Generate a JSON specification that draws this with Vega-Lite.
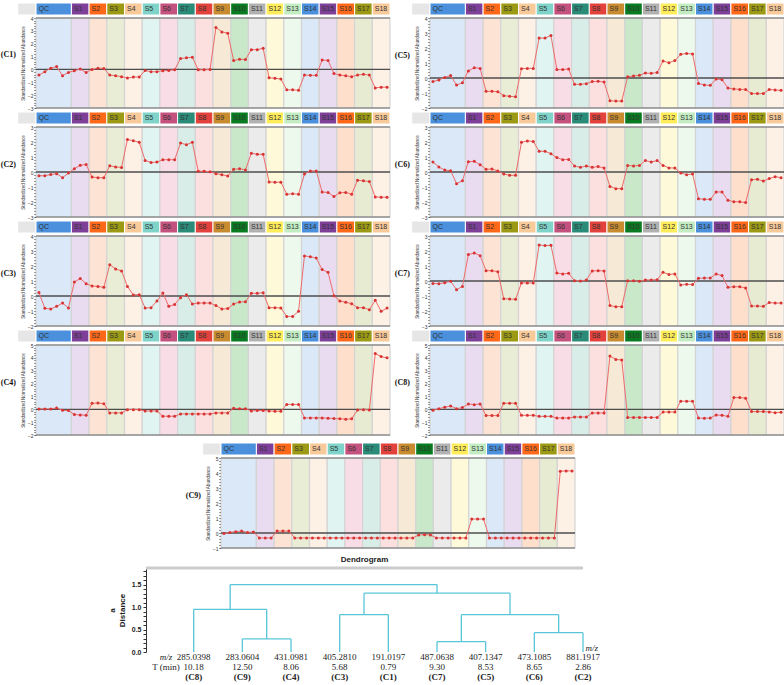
{
"$schema": "https://vega.github.io/schema/vega-lite/v6.json",
"background": "white",
"padding": {"left": 0, "top": 2, "right": 0, "bottom": 0},
"config": {"view": {"stroke": null}, "font": "Liberation Sans",
  "axis": {"labelFontSize": 5, "titleFontSize": 4.5, "titleFontWeight": "normal", "tickSize": 2, "labelPadding": 1, "titlePadding": 2, "domainColor": "#333333", "tickColor": "#333333", "labelColor": "#333333", "titleColor": "#333333", "grid": false, "labelOverlap": false, "labelFont": "Liberation Sans", "titleFont": "Liberation Sans"}},
"datasets": {
"bands": [{"g":"X","x":-3.6,"x2":-0.5},{"g":"QC","x":-0.5,"x2":5.5},{"g":"S1","x":5.5,"x2":8.5},{"g":"S2","x":8.5,"x2":11.5},{"g":"S3","x":11.5,"x2":14.5},{"g":"S4","x":14.5,"x2":17.5},{"g":"S5","x":17.5,"x2":20.5},{"g":"S6","x":20.5,"x2":23.5},{"g":"S7","x":23.5,"x2":26.5},{"g":"S8","x":26.5,"x2":29.5},{"g":"S9","x":29.5,"x2":32.5},{"g":"S10","x":32.5,"x2":35.5},{"g":"S11","x":35.5,"x2":38.5},{"g":"S12","x":38.5,"x2":41.5},{"g":"S13","x":41.5,"x2":44.5},{"g":"S14","x":44.5,"x2":47.5},{"g":"S15","x":47.5,"x2":50.5},{"g":"S16","x":50.5,"x2":53.5},{"g":"S17","x":53.5,"x2":56.5},{"g":"S18","x":56.5,"x2":59.5}],
"C1": [{"x":0,"v":-0.44},{"x":1,"v":-0.18},{"x":2,"v":0.1},{"x":3,"v":0.23},{"x":4,"v":-0.49},{"x":5,"v":-0.23},{"x":6,"v":-0.1},{"x":7,"v":0.03},{"x":8,"v":-0.23},{"x":9,"v":0},{"x":10,"v":0.1},{"x":11,"v":0.08},{"x":12,"v":-0.44},{"x":13,"v":-0.49},{"x":14,"v":-0.56},{"x":15,"v":-0.67},{"x":16,"v":-0.59},{"x":17,"v":-0.59},{"x":18,"v":-0.08},{"x":19,"v":-0.18},{"x":20,"v":-0.18},{"x":21,"v":-0.1},{"x":22,"v":-0.08},{"x":23,"v":-0.03},{"x":24,"v":0.85},{"x":25,"v":0.9},{"x":26,"v":0.95},{"x":27,"v":-0.03},{"x":28,"v":-0.03},{"x":29,"v":0},{"x":30,"v":3.26},{"x":31,"v":2.92},{"x":32,"v":2.82},{"x":33,"v":0.69},{"x":34,"v":0.79},{"x":35,"v":0.77},{"x":36,"v":1.54},{"x":37,"v":1.54},{"x":38,"v":1.64},{"x":39,"v":-0.64},{"x":40,"v":-0.69},{"x":41,"v":-0.74},{"x":42,"v":-1.59},{"x":43,"v":-1.59},{"x":44,"v":-1.62},{"x":45,"v":-0.44},{"x":46,"v":-0.46},{"x":47,"v":-0.46},{"x":48,"v":0.74},{"x":49,"v":0.69},{"x":50,"v":-0.31},{"x":51,"v":-0.44},{"x":52,"v":-0.49},{"x":53,"v":-0.56},{"x":54,"v":-0.44},{"x":55,"v":-0.38},{"x":56,"v":-0.44},{"x":57,"v":-1.44},{"x":58,"v":-1.38},{"x":59,"v":-1.38}],
"C2": [{"x":0,"v":-0.25},{"x":1,"v":-0.25},{"x":2,"v":-0.16},{"x":3,"v":-0.11},{"x":4,"v":-0.38},{"x":5,"v":-0.07},{"x":6,"v":0.22},{"x":7,"v":0.45},{"x":8,"v":0.5},{"x":9,"v":-0.34},{"x":10,"v":-0.38},{"x":11,"v":-0.38},{"x":12,"v":0.41},{"x":13,"v":0.34},{"x":14,"v":0.3},{"x":15,"v":2.16},{"x":16,"v":2.09},{"x":17,"v":1.98},{"x":18,"v":0.77},{"x":19,"v":0.64},{"x":20,"v":0.66},{"x":21,"v":0.82},{"x":22,"v":0.82},{"x":23,"v":0.82},{"x":24,"v":1.93},{"x":25,"v":1.82},{"x":26,"v":1.98},{"x":27,"v":0.05},{"x":28,"v":0.05},{"x":29,"v":0.02},{"x":30,"v":-0.11},{"x":31,"v":-0.18},{"x":32,"v":-0.27},{"x":33,"v":0.18},{"x":34,"v":0.22},{"x":35,"v":0.14},{"x":36,"v":1.25},{"x":37,"v":1.18},{"x":38,"v":1.18},{"x":39,"v":-0.66},{"x":40,"v":-0.68},{"x":41,"v":-0.68},{"x":42,"v":-1.48},{"x":43,"v":-1.45},{"x":44,"v":-1.48},{"x":45,"v":-0.14},{"x":46,"v":0.07},{"x":47,"v":0.07},{"x":48,"v":-1.34},{"x":49,"v":-1.36},{"x":50,"v":-1.64},{"x":51,"v":-1.39},{"x":52,"v":-1.36},{"x":53,"v":-1.48},{"x":54,"v":-0.55},{"x":55,"v":-0.59},{"x":56,"v":-0.64},{"x":57,"v":-1.66},{"x":58,"v":-1.68},{"x":59,"v":-1.68}],
"C3": [{"x":0,"v":0.24},{"x":1,"v":-0.82},{"x":2,"v":-0.87},{"x":3,"v":-0.69},{"x":4,"v":-0.47},{"x":5,"v":-0.8},{"x":6,"v":0.93},{"x":7,"v":1.16},{"x":8,"v":0.82},{"x":9,"v":0.67},{"x":10,"v":0.64},{"x":11,"v":0.58},{"x":12,"v":2.09},{"x":13,"v":1.8},{"x":14,"v":1.67},{"x":15,"v":0.64},{"x":16,"v":0.07},{"x":17,"v":0.09},{"x":18,"v":-0.8},{"x":19,"v":-0.78},{"x":20,"v":-0.33},{"x":21,"v":0.2},{"x":22,"v":-0.69},{"x":23,"v":-0.56},{"x":24,"v":-0.11},{"x":25,"v":0.09},{"x":26,"v":-0.53},{"x":27,"v":-0.47},{"x":28,"v":-0.47},{"x":29,"v":-0.47},{"x":30,"v":-0.64},{"x":31,"v":-0.87},{"x":32,"v":-0.84},{"x":33,"v":-0.53},{"x":34,"v":-0.4},{"x":35,"v":-0.38},{"x":36,"v":0.18},{"x":37,"v":0.18},{"x":38,"v":0.22},{"x":39,"v":-0.78},{"x":40,"v":-0.78},{"x":41,"v":-0.8},{"x":42,"v":-1.36},{"x":43,"v":-1.36},{"x":44,"v":-1.02},{"x":45,"v":2.67},{"x":46,"v":2.62},{"x":47,"v":2.53},{"x":48,"v":1.76},{"x":49,"v":1.58},{"x":50,"v":0.02},{"x":51,"v":-0.33},{"x":52,"v":-0.42},{"x":53,"v":-0.51},{"x":54,"v":-0.78},{"x":55,"v":-0.78},{"x":56,"v":-0.91},{"x":57,"v":-0.29},{"x":58,"v":-1.02},{"x":59,"v":-0.8}],
"C4": [{"x":0,"v":0.03},{"x":1,"v":0.03},{"x":2,"v":0.03},{"x":3,"v":0.1},{"x":4,"v":-0.08},{"x":5,"v":-0.1},{"x":6,"v":-0.41},{"x":7,"v":-0.44},{"x":8,"v":-0.46},{"x":9,"v":0.46},{"x":10,"v":0.49},{"x":11,"v":0.44},{"x":12,"v":-0.28},{"x":13,"v":-0.28},{"x":14,"v":-0.28},{"x":15,"v":-0.03},{"x":16,"v":-0.03},{"x":17,"v":-0.03},{"x":18,"v":-0.13},{"x":19,"v":-0.13},{"x":20,"v":-0.13},{"x":21,"v":-0.54},{"x":22,"v":-0.54},{"x":23,"v":-0.54},{"x":24,"v":-0.36},{"x":25,"v":-0.36},{"x":26,"v":-0.36},{"x":27,"v":-0.36},{"x":28,"v":-0.36},{"x":29,"v":-0.36},{"x":30,"v":-0.28},{"x":31,"v":-0.28},{"x":32,"v":-0.28},{"x":33,"v":0.08},{"x":34,"v":0.05},{"x":35,"v":0.05},{"x":36,"v":-0.13},{"x":37,"v":-0.1},{"x":38,"v":-0.1},{"x":39,"v":-0.13},{"x":40,"v":-0.15},{"x":41,"v":-0.15},{"x":42,"v":0.38},{"x":43,"v":0.38},{"x":44,"v":0.38},{"x":45,"v":-0.67},{"x":46,"v":-0.67},{"x":47,"v":-0.67},{"x":48,"v":-0.67},{"x":49,"v":-0.69},{"x":50,"v":-0.72},{"x":51,"v":-0.74},{"x":52,"v":-0.77},{"x":53,"v":-0.74},{"x":54,"v":-0.05},{"x":55,"v":-0.03},{"x":56,"v":-0.05},{"x":57,"v":4.33},{"x":58,"v":4.1},{"x":59,"v":4.0}],
"C5": [{"x":0,"v":-0.24},{"x":1,"v":-0.13},{"x":2,"v":0.04},{"x":3,"v":0.16},{"x":4,"v":-0.47},{"x":5,"v":-0.31},{"x":6,"v":0.47},{"x":7,"v":0.69},{"x":8,"v":0.64},{"x":9,"v":-0.89},{"x":10,"v":-0.89},{"x":11,"v":-0.91},{"x":12,"v":-1.18},{"x":13,"v":-1.22},{"x":14,"v":-1.25},{"x":15,"v":0.62},{"x":16,"v":0.64},{"x":17,"v":0.64},{"x":18,"v":2.66},{"x":19,"v":2.66},{"x":20,"v":2.84},{"x":21,"v":0.56},{"x":22,"v":0.56},{"x":23,"v":0.6},{"x":24,"v":-0.42},{"x":25,"v":-0.42},{"x":26,"v":-0.38},{"x":27,"v":-0.24},{"x":28,"v":-0.22},{"x":29,"v":-0.27},{"x":30,"v":-1.52},{"x":31,"v":-1.54},{"x":32,"v":-1.54},{"x":33,"v":0.09},{"x":34,"v":0.13},{"x":35,"v":0.18},{"x":36,"v":0.33},{"x":37,"v":0.31},{"x":38,"v":0.36},{"x":39,"v":1.13},{"x":40,"v":1.02},{"x":41,"v":1.16},{"x":42,"v":1.58},{"x":43,"v":1.64},{"x":44,"v":1.6},{"x":45,"v":-0.36},{"x":46,"v":-0.47},{"x":47,"v":-0.49},{"x":48,"v":-0.07},{"x":49,"v":-0.11},{"x":50,"v":-0.67},{"x":51,"v":-0.73},{"x":52,"v":-0.76},{"x":53,"v":-0.76},{"x":54,"v":-1.04},{"x":55,"v":-1.04},{"x":56,"v":-1.04},{"x":57,"v":-0.76},{"x":58,"v":-0.8},{"x":59,"v":-0.82}],
"C6": [{"x":0,"v":0.67},{"x":1,"v":0.33},{"x":2,"v":0.13},{"x":3,"v":0.09},{"x":4,"v":-0.78},{"x":5,"v":-0.58},{"x":6,"v":0.69},{"x":7,"v":0.71},{"x":8,"v":0.49},{"x":9,"v":0.18},{"x":10,"v":0.2},{"x":11,"v":0.07},{"x":12,"v":-0.13},{"x":13,"v":-0.22},{"x":14,"v":-0.22},{"x":15,"v":1.98},{"x":16,"v":2.07},{"x":17,"v":2.04},{"x":18,"v":1.38},{"x":19,"v":1.38},{"x":20,"v":1.22},{"x":21,"v":0.96},{"x":22,"v":0.82},{"x":23,"v":0.84},{"x":24,"v":0.4},{"x":25,"v":0.31},{"x":26,"v":0.4},{"x":27,"v":0.31},{"x":28,"v":0.36},{"x":29,"v":0.27},{"x":30,"v":-0.96},{"x":31,"v":-1.11},{"x":32,"v":-1.11},{"x":33,"v":0.44},{"x":34,"v":0.4},{"x":35,"v":0.44},{"x":36,"v":0.76},{"x":37,"v":0.67},{"x":38,"v":0.76},{"x":39,"v":0.44},{"x":40,"v":0.27},{"x":41,"v":0.27},{"x":42,"v":-0.07},{"x":43,"v":-0.18},{"x":44,"v":-0.13},{"x":45,"v":-1.78},{"x":46,"v":-1.82},{"x":47,"v":-1.82},{"x":48,"v":-1.33},{"x":49,"v":-1.33},{"x":50,"v":-1.89},{"x":51,"v":-1.98},{"x":52,"v":-1.98},{"x":53,"v":-2.04},{"x":54,"v":-0.51},{"x":55,"v":-0.49},{"x":56,"v":-0.6},{"x":57,"v":-0.44},{"x":58,"v":-0.31},{"x":59,"v":-0.38}],
"C7": [{"x":0,"v":-0.16},{"x":1,"v":-0.18},{"x":2,"v":-0.11},{"x":3,"v":-0.02},{"x":4,"v":-0.58},{"x":5,"v":-0.36},{"x":6,"v":1.76},{"x":7,"v":1.87},{"x":8,"v":1.69},{"x":9,"v":0.69},{"x":10,"v":0.69},{"x":11,"v":0.62},{"x":12,"v":-1.18},{"x":13,"v":-1.2},{"x":14,"v":-1.22},{"x":15,"v":-0.13},{"x":16,"v":-0.13},{"x":17,"v":-0.13},{"x":18,"v":2.4},{"x":19,"v":2.36},{"x":20,"v":2.38},{"x":21,"v":0.53},{"x":22,"v":0.47},{"x":23,"v":0.51},{"x":24,"v":0.02},{"x":25,"v":0},{"x":26,"v":0.07},{"x":27,"v":0.67},{"x":28,"v":0.69},{"x":29,"v":0.67},{"x":30,"v":-1.64},{"x":31,"v":-1.71},{"x":32,"v":-1.71},{"x":33,"v":0.02},{"x":34,"v":0.02},{"x":35,"v":-0.02},{"x":36,"v":0.07},{"x":37,"v":0.07},{"x":38,"v":0.09},{"x":39,"v":0.58},{"x":40,"v":0.44},{"x":41,"v":0.47},{"x":42,"v":-0.27},{"x":43,"v":-0.22},{"x":44,"v":-0.24},{"x":45,"v":0.18},{"x":46,"v":0.2},{"x":47,"v":0.2},{"x":48,"v":0.47},{"x":49,"v":0.36},{"x":50,"v":-0.42},{"x":51,"v":-0.38},{"x":52,"v":-0.38},{"x":53,"v":-0.47},{"x":54,"v":-1.67},{"x":55,"v":-1.67},{"x":56,"v":-1.69},{"x":57,"v":-1.44},{"x":58,"v":-1.47},{"x":59,"v":-1.47}],
"C8": [{"x":0,"v":-0.08},{"x":1,"v":0.05},{"x":2,"v":0.16},{"x":3,"v":0.26},{"x":4,"v":0.05},{"x":5,"v":0.13},{"x":6,"v":0.42},{"x":7,"v":0.36},{"x":8,"v":0.42},{"x":9,"v":-0.49},{"x":10,"v":-0.49},{"x":11,"v":-0.49},{"x":12,"v":0.47},{"x":13,"v":0.47},{"x":14,"v":0.47},{"x":15,"v":-0.47},{"x":16,"v":-0.47},{"x":17,"v":-0.47},{"x":18,"v":-0.55},{"x":19,"v":-0.55},{"x":20,"v":-0.55},{"x":21,"v":-0.68},{"x":22,"v":-0.68},{"x":23,"v":-0.68},{"x":24,"v":-0.6},{"x":25,"v":-0.6},{"x":26,"v":-0.6},{"x":27,"v":-0.29},{"x":28,"v":-0.29},{"x":29,"v":-0.29},{"x":30,"v":4.14},{"x":31,"v":3.88},{"x":32,"v":3.83},{"x":33,"v":-0.63},{"x":34,"v":-0.63},{"x":35,"v":-0.63},{"x":36,"v":-0.63},{"x":37,"v":-0.63},{"x":38,"v":-0.63},{"x":39,"v":-0.21},{"x":40,"v":-0.21},{"x":41,"v":-0.21},{"x":42,"v":0.63},{"x":43,"v":0.63},{"x":44,"v":0.63},{"x":45,"v":-0.68},{"x":46,"v":-0.7},{"x":47,"v":-0.68},{"x":48,"v":-0.44},{"x":49,"v":-0.47},{"x":50,"v":-0.55},{"x":51,"v":0.91},{"x":52,"v":0.91},{"x":53,"v":0.86},{"x":54,"v":-0.18},{"x":55,"v":-0.18},{"x":56,"v":-0.18},{"x":57,"v":-0.21},{"x":58,"v":-0.26},{"x":59,"v":-0.23}],
"C9": [{"x":0,"v":-0.04},{"x":1,"v":0.04},{"x":2,"v":0.09},{"x":3,"v":0.13},{"x":4,"v":0.04},{"x":5,"v":0.07},{"x":6,"v":-0.33},{"x":7,"v":-0.33},{"x":8,"v":-0.33},{"x":9,"v":0.13},{"x":10,"v":0.13},{"x":11,"v":0.13},{"x":12,"v":-0.33},{"x":13,"v":-0.33},{"x":14,"v":-0.33},{"x":15,"v":-0.33},{"x":16,"v":-0.33},{"x":17,"v":-0.33},{"x":18,"v":-0.33},{"x":19,"v":-0.33},{"x":20,"v":-0.33},{"x":21,"v":-0.33},{"x":22,"v":-0.33},{"x":23,"v":-0.33},{"x":24,"v":-0.33},{"x":25,"v":-0.33},{"x":26,"v":-0.33},{"x":27,"v":-0.33},{"x":28,"v":-0.33},{"x":29,"v":-0.33},{"x":30,"v":-0.33},{"x":31,"v":-0.33},{"x":32,"v":-0.33},{"x":33,"v":-0.13},{"x":34,"v":-0.11},{"x":35,"v":-0.13},{"x":36,"v":-0.33},{"x":37,"v":-0.33},{"x":38,"v":-0.33},{"x":39,"v":-0.33},{"x":40,"v":-0.33},{"x":41,"v":-0.33},{"x":42,"v":0.93},{"x":43,"v":0.93},{"x":44,"v":0.93},{"x":45,"v":-0.33},{"x":46,"v":-0.33},{"x":47,"v":-0.33},{"x":48,"v":-0.33},{"x":49,"v":-0.33},{"x":50,"v":-0.33},{"x":51,"v":-0.33},{"x":52,"v":-0.33},{"x":53,"v":-0.33},{"x":54,"v":-0.33},{"x":55,"v":-0.33},{"x":56,"v":-0.33},{"x":57,"v":4.12},{"x":58,"v":4.14},{"x":59,"v":4.14}],
"links": [{"x":1,"x2":1,"y":0,"y2":0.29},{"x":2,"x2":2,"y":0,"y2":0.29},{"x":1,"x2":2,"y":0.29,"y2":0.29},{"x":0,"x2":0,"y":0,"y2":0.95},{"x":1.5,"x2":1.5,"y":0.29,"y2":0.95},{"x":0,"x2":1.5,"y":0.95,"y2":0.95},{"x":3,"x2":3,"y":0,"y2":0.83},{"x":4,"x2":4,"y":0,"y2":0.83},{"x":3,"x2":4,"y":0.83,"y2":0.83},{"x":5,"x2":5,"y":0,"y2":0.23},{"x":6,"x2":6,"y":0,"y2":0.23},{"x":5,"x2":6,"y":0.23,"y2":0.23},{"x":7,"x2":7,"y":0,"y2":0.43},{"x":8,"x2":8,"y":0,"y2":0.43},{"x":7,"x2":8,"y":0.43,"y2":0.43},{"x":5.5,"x2":5.5,"y":0.23,"y2":0.83},{"x":7.5,"x2":7.5,"y":0.43,"y2":0.83},{"x":5.5,"x2":7.5,"y":0.83,"y2":0.83},{"x":3.5,"x2":3.5,"y":0.83,"y2":1.31},{"x":6.5,"x2":6.5,"y":0.83,"y2":1.31},{"x":3.5,"x2":6.5,"y":1.31,"y2":1.31},{"x":0.75,"x2":0.75,"y":0.95,"y2":1.5},{"x":5,"x2":5,"y":1.31,"y2":1.5},{"x":0.75,"x2":5,"y":1.5,"y2":1.5}],
"leaves": [{"k":0,"mz":"285.0398","t":"10.18","c":"(C8)"},{"k":1,"mz":"283.0604","t":"12.50","c":"(C9)"},{"k":2,"mz":"431.0981","t":"8.06","c":"(C4)"},{"k":3,"mz":"405.2810","t":"5.68","c":"(C3)"},{"k":4,"mz":"191.0197","t":"0.79","c":"(C1)"},{"k":5,"mz":"487.0638","t":"9.30","c":"(C7)"},{"k":6,"mz":"407.1347","t":"8.53","c":"(C5)"},{"k":7,"mz":"473.1085","t":"8.65","c":"(C6)"},{"k":8,"mz":"881.1917","t":"2.86","c":"(C2)"}]
},
"spacing": 4,
"vconcat": [
{"concat": [
{"width":354,"height":105,"resolve":{"scale":{"y":"independent"}},"layer":[
{"data":{"name":"bands"},"layer":[
{"mark":{"type":"rect","stroke":"#ffffff","strokeWidth":1},"encoding":{"x":{"field":"x","type":"quantitative","scale":{"domain":[-0.5,59.5],"nice":false,"zero":false},"axis":null},"x2":{"field":"x2"},"y":{"datum":1,"scale":{"domain":[0,1],"range":[12,0],"nice":false,"zero":false},"axis":null},"y2":{"datum":0},"color":{"field":"g","type":"nominal","scale":{"domain":["X","QC","S1","S2","S3","S4","S5","S6","S7","S8","S9","S10","S11","S12","S13","S14","S15","S16","S17","S18"],"range":["#e6e6e6","#4a90dc","#7d3f98","#ff6818","#9c9a14","#f8c999","#7fd3c9","#c4527f","#2b8b79","#e2423b","#c98b30","#087a1f","#b1b1b1","#ffec5a","#c3ecc3","#4a90dc","#7d3f98","#ff6818","#9c9a14","#f8c999"]},"legend":null}}},
{"transform":[{"filter":"datum.g != 'X'"}],"mark":{"type":"text","align":"left","baseline":"middle","dx":2.5,"fontSize":7,"font":"Liberation Sans","color":"#333333"},"encoding":{"x":{"field":"x","type":"quantitative","scale":{"domain":[-0.5,59.5],"nice":false,"zero":false},"axis":null},"y":{"datum":0.5,"scale":{"domain":[0,1],"range":[12,0],"nice":false,"zero":false},"axis":null},"text":{"field":"g"}}}]},
{"layer":[
{"data":{"name":"bands"},"transform":[{"filter":"datum.g != 'X'"}],"mark":{"type":"rect","stroke":"#d4d4d4","strokeWidth":1.2},"encoding":{"x":{"field":"x","type":"quantitative","scale":{"domain":[-0.5,59.5],"nice":false,"zero":false},"axis":null},"x2":{"field":"x2"},"y":{"datum":4,"scale":{"domain":[-3,4],"range":[105,15],"nice":false,"zero":false}},"y2":{"datum":-3},"fill":{"field":"g","type":"nominal","scale":{"domain":["QC","S1","S2","S3","S4","S5","S6","S7","S8","S9","S10","S11","S12","S13","S14","S15","S16","S17","S18"],"range":["#dbe8f8","#e9dcf0","#fde3d3","#eaedd5","#fdf0e5","#e0f4f1","#f8dde7","#d9ede8","#fcdfdf","#f6e9d5","#c9e7c9","#ebebeb","#fdf9d9","#eef9ee","#dbe8f8","#e9dcf0","#fddfcc","#e7ebd2","#fdf0e5"]},"legend":null}}},
{"data":{"values":[{"y":4},{"y":-3}]},"mark":{"type":"rule","color":"#8f8f8f","strokeWidth":1.5},"encoding":{"x":{"datum":-0.5,"scale":{"domain":[-0.5,59.5],"nice":false,"zero":false},"axis":null},"x2":{"datum":59.5},"y":{"field":"y","type":"quantitative","scale":{"domain":[-3,4],"range":[105,15],"nice":false,"zero":false}}}},
{"data":{"values":[{"y":0}]},"mark":{"type":"rule","color":"#4d4d4d","strokeWidth":1.3},"encoding":{"x":{"datum":-0.5,"scale":{"domain":[-0.5,59.5],"nice":false,"zero":false},"axis":null},"x2":{"datum":59.5},"y":{"field":"y","type":"quantitative","scale":{"domain":[-3,4],"range":[105,15],"nice":false,"zero":false}}}},
{"data":{"name":"C1"},"mark":{"type":"line","color":"#ee6b6b","strokeWidth":1},"encoding":{"x":{"field":"x","type":"quantitative","scale":{"domain":[-0.5,59.5],"nice":false,"zero":false},"axis":null},"y":{"field":"v","type":"quantitative","scale":{"domain":[-3,4],"range":[105,15],"nice":false,"zero":false},"axis":{"title":"Standardized Normalized Abundance","tickCount":30,"labelExpr":"datum.value % 1 == 0 ? format(datum.value, 'd') : ''"}}}},
{"data":{"name":"C1"},"mark":{"type":"point","filled":true,"color":"#d83434","size":9,"opacity":1},"encoding":{"x":{"field":"x","type":"quantitative","scale":{"domain":[-0.5,59.5],"nice":false,"zero":false},"axis":null},"y":{"field":"v","type":"quantitative","scale":{"domain":[-3,4],"range":[105,15],"nice":false,"zero":false}}}},
{"data":{"values":[{"t":"(C1)"}]},"mark":{"type":"text","font":"Liberation Serif","fontWeight":"bold","fontSize":8,"align":"center","baseline":"middle","color":"#111111"},"encoding":{"x":{"datum":-5.2,"scale":{"domain":[-0.5,59.5],"nice":false,"zero":false},"axis":null},"y":{"datum":1.1,"scale":{"domain":[-3,4],"range":[105,15],"nice":false,"zero":false}},"text":{"field":"t"}}}]}]},

{"width":354,"height":105,"resolve":{"scale":{"y":"independent"}},"layer":[
{"data":{"name":"bands"},"layer":[
{"mark":{"type":"rect","stroke":"#ffffff","strokeWidth":1},"encoding":{"x":{"field":"x","type":"quantitative","scale":{"domain":[-0.5,59.5],"nice":false,"zero":false},"axis":null},"x2":{"field":"x2"},"y":{"datum":1,"scale":{"domain":[0,1],"range":[12,0],"nice":false,"zero":false},"axis":null},"y2":{"datum":0},"color":{"field":"g","type":"nominal","scale":{"domain":["X","QC","S1","S2","S3","S4","S5","S6","S7","S8","S9","S10","S11","S12","S13","S14","S15","S16","S17","S18"],"range":["#e6e6e6","#4a90dc","#7d3f98","#ff6818","#9c9a14","#f8c999","#7fd3c9","#c4527f","#2b8b79","#e2423b","#c98b30","#087a1f","#b1b1b1","#ffec5a","#c3ecc3","#4a90dc","#7d3f98","#ff6818","#9c9a14","#f8c999"]},"legend":null}}},
{"transform":[{"filter":"datum.g != 'X'"}],"mark":{"type":"text","align":"left","baseline":"middle","dx":2.5,"fontSize":7,"font":"Liberation Sans","color":"#333333"},"encoding":{"x":{"field":"x","type":"quantitative","scale":{"domain":[-0.5,59.5],"nice":false,"zero":false},"axis":null},"y":{"datum":0.5,"scale":{"domain":[0,1],"range":[12,0],"nice":false,"zero":false},"axis":null},"text":{"field":"g"}}}]},
{"layer":[
{"data":{"name":"bands"},"transform":[{"filter":"datum.g != 'X'"}],"mark":{"type":"rect","stroke":"#d4d4d4","strokeWidth":1.2},"encoding":{"x":{"field":"x","type":"quantitative","scale":{"domain":[-0.5,59.5],"nice":false,"zero":false},"axis":null},"x2":{"field":"x2"},"y":{"datum":4,"scale":{"domain":[-2,4],"range":[105,15],"nice":false,"zero":false}},"y2":{"datum":-2},"fill":{"field":"g","type":"nominal","scale":{"domain":["QC","S1","S2","S3","S4","S5","S6","S7","S8","S9","S10","S11","S12","S13","S14","S15","S16","S17","S18"],"range":["#dbe8f8","#e9dcf0","#fde3d3","#eaedd5","#fdf0e5","#e0f4f1","#f8dde7","#d9ede8","#fcdfdf","#f6e9d5","#c9e7c9","#ebebeb","#fdf9d9","#eef9ee","#dbe8f8","#e9dcf0","#fddfcc","#e7ebd2","#fdf0e5"]},"legend":null}}},
{"data":{"values":[{"y":4},{"y":-2}]},"mark":{"type":"rule","color":"#8f8f8f","strokeWidth":1.5},"encoding":{"x":{"datum":-0.5,"scale":{"domain":[-0.5,59.5],"nice":false,"zero":false},"axis":null},"x2":{"datum":59.5},"y":{"field":"y","type":"quantitative","scale":{"domain":[-2,4],"range":[105,15],"nice":false,"zero":false}}}},
{"data":{"values":[{"y":0}]},"mark":{"type":"rule","color":"#4d4d4d","strokeWidth":1.3},"encoding":{"x":{"datum":-0.5,"scale":{"domain":[-0.5,59.5],"nice":false,"zero":false},"axis":null},"x2":{"datum":59.5},"y":{"field":"y","type":"quantitative","scale":{"domain":[-2,4],"range":[105,15],"nice":false,"zero":false}}}},
{"data":{"name":"C5"},"mark":{"type":"line","color":"#ee6b6b","strokeWidth":1},"encoding":{"x":{"field":"x","type":"quantitative","scale":{"domain":[-0.5,59.5],"nice":false,"zero":false},"axis":null},"y":{"field":"v","type":"quantitative","scale":{"domain":[-2,4],"range":[105,15],"nice":false,"zero":false},"axis":{"title":"Standardized Normalized Abundance","tickCount":30,"labelExpr":"datum.value % 1 == 0 ? format(datum.value, 'd') : ''"}}}},
{"data":{"name":"C5"},"mark":{"type":"point","filled":true,"color":"#d83434","size":9,"opacity":1},"encoding":{"x":{"field":"x","type":"quantitative","scale":{"domain":[-0.5,59.5],"nice":false,"zero":false},"axis":null},"y":{"field":"v","type":"quantitative","scale":{"domain":[-2,4],"range":[105,15],"nice":false,"zero":false}}}},
{"data":{"values":[{"t":"(C5)"}]},"mark":{"type":"text","font":"Liberation Serif","fontWeight":"bold","fontSize":8,"align":"center","baseline":"middle","color":"#111111"},"encoding":{"x":{"datum":-5.2,"scale":{"domain":[-0.5,59.5],"nice":false,"zero":false},"axis":null},"y":{"datum":1.47,"scale":{"domain":[-2,4],"range":[105,15],"nice":false,"zero":false}},"text":{"field":"t"}}}]}]},

{"width":354,"height":105,"resolve":{"scale":{"y":"independent"}},"layer":[
{"data":{"name":"bands"},"layer":[
{"mark":{"type":"rect","stroke":"#ffffff","strokeWidth":1},"encoding":{"x":{"field":"x","type":"quantitative","scale":{"domain":[-0.5,59.5],"nice":false,"zero":false},"axis":null},"x2":{"field":"x2"},"y":{"datum":1,"scale":{"domain":[0,1],"range":[12,0],"nice":false,"zero":false},"axis":null},"y2":{"datum":0},"color":{"field":"g","type":"nominal","scale":{"domain":["X","QC","S1","S2","S3","S4","S5","S6","S7","S8","S9","S10","S11","S12","S13","S14","S15","S16","S17","S18"],"range":["#e6e6e6","#4a90dc","#7d3f98","#ff6818","#9c9a14","#f8c999","#7fd3c9","#c4527f","#2b8b79","#e2423b","#c98b30","#087a1f","#b1b1b1","#ffec5a","#c3ecc3","#4a90dc","#7d3f98","#ff6818","#9c9a14","#f8c999"]},"legend":null}}},
{"transform":[{"filter":"datum.g != 'X'"}],"mark":{"type":"text","align":"left","baseline":"middle","dx":2.5,"fontSize":7,"font":"Liberation Sans","color":"#333333"},"encoding":{"x":{"field":"x","type":"quantitative","scale":{"domain":[-0.5,59.5],"nice":false,"zero":false},"axis":null},"y":{"datum":0.5,"scale":{"domain":[0,1],"range":[12,0],"nice":false,"zero":false},"axis":null},"text":{"field":"g"}}}]},
{"layer":[
{"data":{"name":"bands"},"transform":[{"filter":"datum.g != 'X'"}],"mark":{"type":"rect","stroke":"#d4d4d4","strokeWidth":1.2},"encoding":{"x":{"field":"x","type":"quantitative","scale":{"domain":[-0.5,59.5],"nice":false,"zero":false},"axis":null},"x2":{"field":"x2"},"y":{"datum":3,"scale":{"domain":[-3,3],"range":[105,15],"nice":false,"zero":false}},"y2":{"datum":-3},"fill":{"field":"g","type":"nominal","scale":{"domain":["QC","S1","S2","S3","S4","S5","S6","S7","S8","S9","S10","S11","S12","S13","S14","S15","S16","S17","S18"],"range":["#dbe8f8","#e9dcf0","#fde3d3","#eaedd5","#fdf0e5","#e0f4f1","#f8dde7","#d9ede8","#fcdfdf","#f6e9d5","#c9e7c9","#ebebeb","#fdf9d9","#eef9ee","#dbe8f8","#e9dcf0","#fddfcc","#e7ebd2","#fdf0e5"]},"legend":null}}},
{"data":{"values":[{"y":3},{"y":-3}]},"mark":{"type":"rule","color":"#8f8f8f","strokeWidth":1.5},"encoding":{"x":{"datum":-0.5,"scale":{"domain":[-0.5,59.5],"nice":false,"zero":false},"axis":null},"x2":{"datum":59.5},"y":{"field":"y","type":"quantitative","scale":{"domain":[-3,3],"range":[105,15],"nice":false,"zero":false}}}},
{"data":{"values":[{"y":0}]},"mark":{"type":"rule","color":"#4d4d4d","strokeWidth":1.3},"encoding":{"x":{"datum":-0.5,"scale":{"domain":[-0.5,59.5],"nice":false,"zero":false},"axis":null},"x2":{"datum":59.5},"y":{"field":"y","type":"quantitative","scale":{"domain":[-3,3],"range":[105,15],"nice":false,"zero":false}}}},
{"data":{"name":"C2"},"mark":{"type":"line","color":"#ee6b6b","strokeWidth":1},"encoding":{"x":{"field":"x","type":"quantitative","scale":{"domain":[-0.5,59.5],"nice":false,"zero":false},"axis":null},"y":{"field":"v","type":"quantitative","scale":{"domain":[-3,3],"range":[105,15],"nice":false,"zero":false},"axis":{"title":"Standardized Normalized Abundance","tickCount":30,"labelExpr":"datum.value % 1 == 0 ? format(datum.value, 'd') : ''"}}}},
{"data":{"name":"C2"},"mark":{"type":"point","filled":true,"color":"#d83434","size":9,"opacity":1},"encoding":{"x":{"field":"x","type":"quantitative","scale":{"domain":[-0.5,59.5],"nice":false,"zero":false},"axis":null},"y":{"field":"v","type":"quantitative","scale":{"domain":[-3,3],"range":[105,15],"nice":false,"zero":false}}}},
{"data":{"values":[{"t":"(C2)"}]},"mark":{"type":"text","font":"Liberation Serif","fontWeight":"bold","fontSize":8,"align":"center","baseline":"middle","color":"#111111"},"encoding":{"x":{"datum":-5.2,"scale":{"domain":[-0.5,59.5],"nice":false,"zero":false},"axis":null},"y":{"datum":0.47,"scale":{"domain":[-3,3],"range":[105,15],"nice":false,"zero":false}},"text":{"field":"t"}}}]}]},

{"width":354,"height":105,"resolve":{"scale":{"y":"independent"}},"layer":[
{"data":{"name":"bands"},"layer":[
{"mark":{"type":"rect","stroke":"#ffffff","strokeWidth":1},"encoding":{"x":{"field":"x","type":"quantitative","scale":{"domain":[-0.5,59.5],"nice":false,"zero":false},"axis":null},"x2":{"field":"x2"},"y":{"datum":1,"scale":{"domain":[0,1],"range":[12,0],"nice":false,"zero":false},"axis":null},"y2":{"datum":0},"color":{"field":"g","type":"nominal","scale":{"domain":["X","QC","S1","S2","S3","S4","S5","S6","S7","S8","S9","S10","S11","S12","S13","S14","S15","S16","S17","S18"],"range":["#e6e6e6","#4a90dc","#7d3f98","#ff6818","#9c9a14","#f8c999","#7fd3c9","#c4527f","#2b8b79","#e2423b","#c98b30","#087a1f","#b1b1b1","#ffec5a","#c3ecc3","#4a90dc","#7d3f98","#ff6818","#9c9a14","#f8c999"]},"legend":null}}},
{"transform":[{"filter":"datum.g != 'X'"}],"mark":{"type":"text","align":"left","baseline":"middle","dx":2.5,"fontSize":7,"font":"Liberation Sans","color":"#333333"},"encoding":{"x":{"field":"x","type":"quantitative","scale":{"domain":[-0.5,59.5],"nice":false,"zero":false},"axis":null},"y":{"datum":0.5,"scale":{"domain":[0,1],"range":[12,0],"nice":false,"zero":false},"axis":null},"text":{"field":"g"}}}]},
{"layer":[
{"data":{"name":"bands"},"transform":[{"filter":"datum.g != 'X'"}],"mark":{"type":"rect","stroke":"#d4d4d4","strokeWidth":1.2},"encoding":{"x":{"field":"x","type":"quantitative","scale":{"domain":[-0.5,59.5],"nice":false,"zero":false},"axis":null},"x2":{"field":"x2"},"y":{"datum":3,"scale":{"domain":[-3,3],"range":[105,15],"nice":false,"zero":false}},"y2":{"datum":-3},"fill":{"field":"g","type":"nominal","scale":{"domain":["QC","S1","S2","S3","S4","S5","S6","S7","S8","S9","S10","S11","S12","S13","S14","S15","S16","S17","S18"],"range":["#dbe8f8","#e9dcf0","#fde3d3","#eaedd5","#fdf0e5","#e0f4f1","#f8dde7","#d9ede8","#fcdfdf","#f6e9d5","#c9e7c9","#ebebeb","#fdf9d9","#eef9ee","#dbe8f8","#e9dcf0","#fddfcc","#e7ebd2","#fdf0e5"]},"legend":null}}},
{"data":{"values":[{"y":3},{"y":-3}]},"mark":{"type":"rule","color":"#8f8f8f","strokeWidth":1.5},"encoding":{"x":{"datum":-0.5,"scale":{"domain":[-0.5,59.5],"nice":false,"zero":false},"axis":null},"x2":{"datum":59.5},"y":{"field":"y","type":"quantitative","scale":{"domain":[-3,3],"range":[105,15],"nice":false,"zero":false}}}},
{"data":{"values":[{"y":0}]},"mark":{"type":"rule","color":"#4d4d4d","strokeWidth":1.3},"encoding":{"x":{"datum":-0.5,"scale":{"domain":[-0.5,59.5],"nice":false,"zero":false},"axis":null},"x2":{"datum":59.5},"y":{"field":"y","type":"quantitative","scale":{"domain":[-3,3],"range":[105,15],"nice":false,"zero":false}}}},
{"data":{"name":"C6"},"mark":{"type":"line","color":"#ee6b6b","strokeWidth":1},"encoding":{"x":{"field":"x","type":"quantitative","scale":{"domain":[-0.5,59.5],"nice":false,"zero":false},"axis":null},"y":{"field":"v","type":"quantitative","scale":{"domain":[-3,3],"range":[105,15],"nice":false,"zero":false},"axis":{"title":"Standardized Normalized Abundance","tickCount":30,"labelExpr":"datum.value % 1 == 0 ? format(datum.value, 'd') : ''"}}}},
{"data":{"name":"C6"},"mark":{"type":"point","filled":true,"color":"#d83434","size":9,"opacity":1},"encoding":{"x":{"field":"x","type":"quantitative","scale":{"domain":[-0.5,59.5],"nice":false,"zero":false},"axis":null},"y":{"field":"v","type":"quantitative","scale":{"domain":[-3,3],"range":[105,15],"nice":false,"zero":false}}}},
{"data":{"values":[{"t":"(C6)"}]},"mark":{"type":"text","font":"Liberation Serif","fontWeight":"bold","fontSize":8,"align":"center","baseline":"middle","color":"#111111"},"encoding":{"x":{"datum":-5.2,"scale":{"domain":[-0.5,59.5],"nice":false,"zero":false},"axis":null},"y":{"datum":0.47,"scale":{"domain":[-3,3],"range":[105,15],"nice":false,"zero":false}},"text":{"field":"t"}}}]}]},

{"width":354,"height":105,"resolve":{"scale":{"y":"independent"}},"layer":[
{"data":{"name":"bands"},"layer":[
{"mark":{"type":"rect","stroke":"#ffffff","strokeWidth":1},"encoding":{"x":{"field":"x","type":"quantitative","scale":{"domain":[-0.5,59.5],"nice":false,"zero":false},"axis":null},"x2":{"field":"x2"},"y":{"datum":1,"scale":{"domain":[0,1],"range":[12,0],"nice":false,"zero":false},"axis":null},"y2":{"datum":0},"color":{"field":"g","type":"nominal","scale":{"domain":["X","QC","S1","S2","S3","S4","S5","S6","S7","S8","S9","S10","S11","S12","S13","S14","S15","S16","S17","S18"],"range":["#e6e6e6","#4a90dc","#7d3f98","#ff6818","#9c9a14","#f8c999","#7fd3c9","#c4527f","#2b8b79","#e2423b","#c98b30","#087a1f","#b1b1b1","#ffec5a","#c3ecc3","#4a90dc","#7d3f98","#ff6818","#9c9a14","#f8c999"]},"legend":null}}},
{"transform":[{"filter":"datum.g != 'X'"}],"mark":{"type":"text","align":"left","baseline":"middle","dx":2.5,"fontSize":7,"font":"Liberation Sans","color":"#333333"},"encoding":{"x":{"field":"x","type":"quantitative","scale":{"domain":[-0.5,59.5],"nice":false,"zero":false},"axis":null},"y":{"datum":0.5,"scale":{"domain":[0,1],"range":[12,0],"nice":false,"zero":false},"axis":null},"text":{"field":"g"}}}]},
{"layer":[
{"data":{"name":"bands"},"transform":[{"filter":"datum.g != 'X'"}],"mark":{"type":"rect","stroke":"#d4d4d4","strokeWidth":1.2},"encoding":{"x":{"field":"x","type":"quantitative","scale":{"domain":[-0.5,59.5],"nice":false,"zero":false},"axis":null},"x2":{"field":"x2"},"y":{"datum":4,"scale":{"domain":[-2,4],"range":[105,15],"nice":false,"zero":false}},"y2":{"datum":-2},"fill":{"field":"g","type":"nominal","scale":{"domain":["QC","S1","S2","S3","S4","S5","S6","S7","S8","S9","S10","S11","S12","S13","S14","S15","S16","S17","S18"],"range":["#dbe8f8","#e9dcf0","#fde3d3","#eaedd5","#fdf0e5","#e0f4f1","#f8dde7","#d9ede8","#fcdfdf","#f6e9d5","#c9e7c9","#ebebeb","#fdf9d9","#eef9ee","#dbe8f8","#e9dcf0","#fddfcc","#e7ebd2","#fdf0e5"]},"legend":null}}},
{"data":{"values":[{"y":4},{"y":-2}]},"mark":{"type":"rule","color":"#8f8f8f","strokeWidth":1.5},"encoding":{"x":{"datum":-0.5,"scale":{"domain":[-0.5,59.5],"nice":false,"zero":false},"axis":null},"x2":{"datum":59.5},"y":{"field":"y","type":"quantitative","scale":{"domain":[-2,4],"range":[105,15],"nice":false,"zero":false}}}},
{"data":{"values":[{"y":0}]},"mark":{"type":"rule","color":"#4d4d4d","strokeWidth":1.3},"encoding":{"x":{"datum":-0.5,"scale":{"domain":[-0.5,59.5],"nice":false,"zero":false},"axis":null},"x2":{"datum":59.5},"y":{"field":"y","type":"quantitative","scale":{"domain":[-2,4],"range":[105,15],"nice":false,"zero":false}}}},
{"data":{"name":"C3"},"mark":{"type":"line","color":"#ee6b6b","strokeWidth":1},"encoding":{"x":{"field":"x","type":"quantitative","scale":{"domain":[-0.5,59.5],"nice":false,"zero":false},"axis":null},"y":{"field":"v","type":"quantitative","scale":{"domain":[-2,4],"range":[105,15],"nice":false,"zero":false},"axis":{"title":"Standardized Normalized Abundance","tickCount":30,"labelExpr":"datum.value % 1 == 0 ? format(datum.value, 'd') : ''"}}}},
{"data":{"name":"C3"},"mark":{"type":"point","filled":true,"color":"#d83434","size":9,"opacity":1},"encoding":{"x":{"field":"x","type":"quantitative","scale":{"domain":[-0.5,59.5],"nice":false,"zero":false},"axis":null},"y":{"field":"v","type":"quantitative","scale":{"domain":[-2,4],"range":[105,15],"nice":false,"zero":false}}}},
{"data":{"values":[{"t":"(C3)"}]},"mark":{"type":"text","font":"Liberation Serif","fontWeight":"bold","fontSize":8,"align":"center","baseline":"middle","color":"#111111"},"encoding":{"x":{"datum":-5.2,"scale":{"domain":[-0.5,59.5],"nice":false,"zero":false},"axis":null},"y":{"datum":1.47,"scale":{"domain":[-2,4],"range":[105,15],"nice":false,"zero":false}},"text":{"field":"t"}}}]}]},

{"width":354,"height":105,"resolve":{"scale":{"y":"independent"}},"layer":[
{"data":{"name":"bands"},"layer":[
{"mark":{"type":"rect","stroke":"#ffffff","strokeWidth":1},"encoding":{"x":{"field":"x","type":"quantitative","scale":{"domain":[-0.5,59.5],"nice":false,"zero":false},"axis":null},"x2":{"field":"x2"},"y":{"datum":1,"scale":{"domain":[0,1],"range":[12,0],"nice":false,"zero":false},"axis":null},"y2":{"datum":0},"color":{"field":"g","type":"nominal","scale":{"domain":["X","QC","S1","S2","S3","S4","S5","S6","S7","S8","S9","S10","S11","S12","S13","S14","S15","S16","S17","S18"],"range":["#e6e6e6","#4a90dc","#7d3f98","#ff6818","#9c9a14","#f8c999","#7fd3c9","#c4527f","#2b8b79","#e2423b","#c98b30","#087a1f","#b1b1b1","#ffec5a","#c3ecc3","#4a90dc","#7d3f98","#ff6818","#9c9a14","#f8c999"]},"legend":null}}},
{"transform":[{"filter":"datum.g != 'X'"}],"mark":{"type":"text","align":"left","baseline":"middle","dx":2.5,"fontSize":7,"font":"Liberation Sans","color":"#333333"},"encoding":{"x":{"field":"x","type":"quantitative","scale":{"domain":[-0.5,59.5],"nice":false,"zero":false},"axis":null},"y":{"datum":0.5,"scale":{"domain":[0,1],"range":[12,0],"nice":false,"zero":false},"axis":null},"text":{"field":"g"}}}]},
{"layer":[
{"data":{"name":"bands"},"transform":[{"filter":"datum.g != 'X'"}],"mark":{"type":"rect","stroke":"#d4d4d4","strokeWidth":1.2},"encoding":{"x":{"field":"x","type":"quantitative","scale":{"domain":[-0.5,59.5],"nice":false,"zero":false},"axis":null},"x2":{"field":"x2"},"y":{"datum":3,"scale":{"domain":[-3,3],"range":[105,15],"nice":false,"zero":false}},"y2":{"datum":-3},"fill":{"field":"g","type":"nominal","scale":{"domain":["QC","S1","S2","S3","S4","S5","S6","S7","S8","S9","S10","S11","S12","S13","S14","S15","S16","S17","S18"],"range":["#dbe8f8","#e9dcf0","#fde3d3","#eaedd5","#fdf0e5","#e0f4f1","#f8dde7","#d9ede8","#fcdfdf","#f6e9d5","#c9e7c9","#ebebeb","#fdf9d9","#eef9ee","#dbe8f8","#e9dcf0","#fddfcc","#e7ebd2","#fdf0e5"]},"legend":null}}},
{"data":{"values":[{"y":3},{"y":-3}]},"mark":{"type":"rule","color":"#8f8f8f","strokeWidth":1.5},"encoding":{"x":{"datum":-0.5,"scale":{"domain":[-0.5,59.5],"nice":false,"zero":false},"axis":null},"x2":{"datum":59.5},"y":{"field":"y","type":"quantitative","scale":{"domain":[-3,3],"range":[105,15],"nice":false,"zero":false}}}},
{"data":{"values":[{"y":0}]},"mark":{"type":"rule","color":"#4d4d4d","strokeWidth":1.3},"encoding":{"x":{"datum":-0.5,"scale":{"domain":[-0.5,59.5],"nice":false,"zero":false},"axis":null},"x2":{"datum":59.5},"y":{"field":"y","type":"quantitative","scale":{"domain":[-3,3],"range":[105,15],"nice":false,"zero":false}}}},
{"data":{"name":"C7"},"mark":{"type":"line","color":"#ee6b6b","strokeWidth":1},"encoding":{"x":{"field":"x","type":"quantitative","scale":{"domain":[-0.5,59.5],"nice":false,"zero":false},"axis":null},"y":{"field":"v","type":"quantitative","scale":{"domain":[-3,3],"range":[105,15],"nice":false,"zero":false},"axis":{"title":"Standardized Normalized Abundance","tickCount":30,"labelExpr":"datum.value % 1 == 0 ? format(datum.value, 'd') : ''"}}}},
{"data":{"name":"C7"},"mark":{"type":"point","filled":true,"color":"#d83434","size":9,"opacity":1},"encoding":{"x":{"field":"x","type":"quantitative","scale":{"domain":[-0.5,59.5],"nice":false,"zero":false},"axis":null},"y":{"field":"v","type":"quantitative","scale":{"domain":[-3,3],"range":[105,15],"nice":false,"zero":false}}}},
{"data":{"values":[{"t":"(C7)"}]},"mark":{"type":"text","font":"Liberation Serif","fontWeight":"bold","fontSize":8,"align":"center","baseline":"middle","color":"#111111"},"encoding":{"x":{"datum":-5.2,"scale":{"domain":[-0.5,59.5],"nice":false,"zero":false},"axis":null},"y":{"datum":0.47,"scale":{"domain":[-3,3],"range":[105,15],"nice":false,"zero":false}},"text":{"field":"t"}}}]}]},

{"width":354,"height":105,"resolve":{"scale":{"y":"independent"}},"layer":[
{"data":{"name":"bands"},"layer":[
{"mark":{"type":"rect","stroke":"#ffffff","strokeWidth":1},"encoding":{"x":{"field":"x","type":"quantitative","scale":{"domain":[-0.5,59.5],"nice":false,"zero":false},"axis":null},"x2":{"field":"x2"},"y":{"datum":1,"scale":{"domain":[0,1],"range":[12,0],"nice":false,"zero":false},"axis":null},"y2":{"datum":0},"color":{"field":"g","type":"nominal","scale":{"domain":["X","QC","S1","S2","S3","S4","S5","S6","S7","S8","S9","S10","S11","S12","S13","S14","S15","S16","S17","S18"],"range":["#e6e6e6","#4a90dc","#7d3f98","#ff6818","#9c9a14","#f8c999","#7fd3c9","#c4527f","#2b8b79","#e2423b","#c98b30","#087a1f","#b1b1b1","#ffec5a","#c3ecc3","#4a90dc","#7d3f98","#ff6818","#9c9a14","#f8c999"]},"legend":null}}},
{"transform":[{"filter":"datum.g != 'X'"}],"mark":{"type":"text","align":"left","baseline":"middle","dx":2.5,"fontSize":7,"font":"Liberation Sans","color":"#333333"},"encoding":{"x":{"field":"x","type":"quantitative","scale":{"domain":[-0.5,59.5],"nice":false,"zero":false},"axis":null},"y":{"datum":0.5,"scale":{"domain":[0,1],"range":[12,0],"nice":false,"zero":false},"axis":null},"text":{"field":"g"}}}]},
{"layer":[
{"data":{"name":"bands"},"transform":[{"filter":"datum.g != 'X'"}],"mark":{"type":"rect","stroke":"#d4d4d4","strokeWidth":1.2},"encoding":{"x":{"field":"x","type":"quantitative","scale":{"domain":[-0.5,59.5],"nice":false,"zero":false},"axis":null},"x2":{"field":"x2"},"y":{"datum":5,"scale":{"domain":[-2,5],"range":[105,15],"nice":false,"zero":false}},"y2":{"datum":-2},"fill":{"field":"g","type":"nominal","scale":{"domain":["QC","S1","S2","S3","S4","S5","S6","S7","S8","S9","S10","S11","S12","S13","S14","S15","S16","S17","S18"],"range":["#dbe8f8","#e9dcf0","#fde3d3","#eaedd5","#fdf0e5","#e0f4f1","#f8dde7","#d9ede8","#fcdfdf","#f6e9d5","#c9e7c9","#ebebeb","#fdf9d9","#eef9ee","#dbe8f8","#e9dcf0","#fddfcc","#e7ebd2","#fdf0e5"]},"legend":null}}},
{"data":{"values":[{"y":5},{"y":-2}]},"mark":{"type":"rule","color":"#8f8f8f","strokeWidth":1.5},"encoding":{"x":{"datum":-0.5,"scale":{"domain":[-0.5,59.5],"nice":false,"zero":false},"axis":null},"x2":{"datum":59.5},"y":{"field":"y","type":"quantitative","scale":{"domain":[-2,5],"range":[105,15],"nice":false,"zero":false}}}},
{"data":{"values":[{"y":0}]},"mark":{"type":"rule","color":"#4d4d4d","strokeWidth":1.3},"encoding":{"x":{"datum":-0.5,"scale":{"domain":[-0.5,59.5],"nice":false,"zero":false},"axis":null},"x2":{"datum":59.5},"y":{"field":"y","type":"quantitative","scale":{"domain":[-2,5],"range":[105,15],"nice":false,"zero":false}}}},
{"data":{"name":"C4"},"mark":{"type":"line","color":"#ee6b6b","strokeWidth":1},"encoding":{"x":{"field":"x","type":"quantitative","scale":{"domain":[-0.5,59.5],"nice":false,"zero":false},"axis":null},"y":{"field":"v","type":"quantitative","scale":{"domain":[-2,5],"range":[105,15],"nice":false,"zero":false},"axis":{"title":"Standardized Normalized Abundance","tickCount":30,"labelExpr":"datum.value % 1 == 0 ? format(datum.value, 'd') : ''"}}}},
{"data":{"name":"C4"},"mark":{"type":"point","filled":true,"color":"#d83434","size":9,"opacity":1},"encoding":{"x":{"field":"x","type":"quantitative","scale":{"domain":[-0.5,59.5],"nice":false,"zero":false},"axis":null},"y":{"field":"v","type":"quantitative","scale":{"domain":[-2,5],"range":[105,15],"nice":false,"zero":false}}}},
{"data":{"values":[{"t":"(C4)"}]},"mark":{"type":"text","font":"Liberation Serif","fontWeight":"bold","fontSize":8,"align":"center","baseline":"middle","color":"#111111"},"encoding":{"x":{"datum":-5.2,"scale":{"domain":[-0.5,59.5],"nice":false,"zero":false},"axis":null},"y":{"datum":2.05,"scale":{"domain":[-2,5],"range":[105,15],"nice":false,"zero":false}},"text":{"field":"t"}}}]}]},

{"width":354,"height":105,"resolve":{"scale":{"y":"independent"}},"layer":[
{"data":{"name":"bands"},"layer":[
{"mark":{"type":"rect","stroke":"#ffffff","strokeWidth":1},"encoding":{"x":{"field":"x","type":"quantitative","scale":{"domain":[-0.5,59.5],"nice":false,"zero":false},"axis":null},"x2":{"field":"x2"},"y":{"datum":1,"scale":{"domain":[0,1],"range":[12,0],"nice":false,"zero":false},"axis":null},"y2":{"datum":0},"color":{"field":"g","type":"nominal","scale":{"domain":["X","QC","S1","S2","S3","S4","S5","S6","S7","S8","S9","S10","S11","S12","S13","S14","S15","S16","S17","S18"],"range":["#e6e6e6","#4a90dc","#7d3f98","#ff6818","#9c9a14","#f8c999","#7fd3c9","#c4527f","#2b8b79","#e2423b","#c98b30","#087a1f","#b1b1b1","#ffec5a","#c3ecc3","#4a90dc","#7d3f98","#ff6818","#9c9a14","#f8c999"]},"legend":null}}},
{"transform":[{"filter":"datum.g != 'X'"}],"mark":{"type":"text","align":"left","baseline":"middle","dx":2.5,"fontSize":7,"font":"Liberation Sans","color":"#333333"},"encoding":{"x":{"field":"x","type":"quantitative","scale":{"domain":[-0.5,59.5],"nice":false,"zero":false},"axis":null},"y":{"datum":0.5,"scale":{"domain":[0,1],"range":[12,0],"nice":false,"zero":false},"axis":null},"text":{"field":"g"}}}]},
{"layer":[
{"data":{"name":"bands"},"transform":[{"filter":"datum.g != 'X'"}],"mark":{"type":"rect","stroke":"#d4d4d4","strokeWidth":1.2},"encoding":{"x":{"field":"x","type":"quantitative","scale":{"domain":[-0.5,59.5],"nice":false,"zero":false},"axis":null},"x2":{"field":"x2"},"y":{"datum":5,"scale":{"domain":[-2,5],"range":[105,15],"nice":false,"zero":false}},"y2":{"datum":-2},"fill":{"field":"g","type":"nominal","scale":{"domain":["QC","S1","S2","S3","S4","S5","S6","S7","S8","S9","S10","S11","S12","S13","S14","S15","S16","S17","S18"],"range":["#dbe8f8","#e9dcf0","#fde3d3","#eaedd5","#fdf0e5","#e0f4f1","#f8dde7","#d9ede8","#fcdfdf","#f6e9d5","#c9e7c9","#ebebeb","#fdf9d9","#eef9ee","#dbe8f8","#e9dcf0","#fddfcc","#e7ebd2","#fdf0e5"]},"legend":null}}},
{"data":{"values":[{"y":5},{"y":-2}]},"mark":{"type":"rule","color":"#8f8f8f","strokeWidth":1.5},"encoding":{"x":{"datum":-0.5,"scale":{"domain":[-0.5,59.5],"nice":false,"zero":false},"axis":null},"x2":{"datum":59.5},"y":{"field":"y","type":"quantitative","scale":{"domain":[-2,5],"range":[105,15],"nice":false,"zero":false}}}},
{"data":{"values":[{"y":0}]},"mark":{"type":"rule","color":"#4d4d4d","strokeWidth":1.3},"encoding":{"x":{"datum":-0.5,"scale":{"domain":[-0.5,59.5],"nice":false,"zero":false},"axis":null},"x2":{"datum":59.5},"y":{"field":"y","type":"quantitative","scale":{"domain":[-2,5],"range":[105,15],"nice":false,"zero":false}}}},
{"data":{"name":"C8"},"mark":{"type":"line","color":"#ee6b6b","strokeWidth":1},"encoding":{"x":{"field":"x","type":"quantitative","scale":{"domain":[-0.5,59.5],"nice":false,"zero":false},"axis":null},"y":{"field":"v","type":"quantitative","scale":{"domain":[-2,5],"range":[105,15],"nice":false,"zero":false},"axis":{"title":"Standardized Normalized Abundance","tickCount":30,"labelExpr":"datum.value % 1 == 0 ? format(datum.value, 'd') : ''"}}}},
{"data":{"name":"C8"},"mark":{"type":"point","filled":true,"color":"#d83434","size":9,"opacity":1},"encoding":{"x":{"field":"x","type":"quantitative","scale":{"domain":[-0.5,59.5],"nice":false,"zero":false},"axis":null},"y":{"field":"v","type":"quantitative","scale":{"domain":[-2,5],"range":[105,15],"nice":false,"zero":false}}}},
{"data":{"values":[{"t":"(C8)"}]},"mark":{"type":"text","font":"Liberation Serif","fontWeight":"bold","fontSize":8,"align":"center","baseline":"middle","color":"#111111"},"encoding":{"x":{"datum":-5.2,"scale":{"domain":[-0.5,59.5],"nice":false,"zero":false},"axis":null},"y":{"datum":2.05,"scale":{"domain":[-2,5],"range":[105,15],"nice":false,"zero":false}},"text":{"field":"t"}}}]}]}
],
"columns": 2, "spacing": {"row": 0, "column": 3}},

{"spacing": 0, "hconcat": [
{"width": 149, "height": 10, "data": {"values": []}, "mark": "point"},
{"width":354,"height":105,"resolve":{"scale":{"y":"independent"}},"layer":[
{"data":{"name":"bands"},"layer":[
{"mark":{"type":"rect","stroke":"#ffffff","strokeWidth":1},"encoding":{"x":{"field":"x","type":"quantitative","scale":{"domain":[-0.5,59.5],"nice":false,"zero":false},"axis":null},"x2":{"field":"x2"},"y":{"datum":1,"scale":{"domain":[0,1],"range":[12,0],"nice":false,"zero":false},"axis":null},"y2":{"datum":0},"color":{"field":"g","type":"nominal","scale":{"domain":["X","QC","S1","S2","S3","S4","S5","S6","S7","S8","S9","S10","S11","S12","S13","S14","S15","S16","S17","S18"],"range":["#e6e6e6","#4a90dc","#7d3f98","#ff6818","#9c9a14","#f8c999","#7fd3c9","#c4527f","#2b8b79","#e2423b","#c98b30","#087a1f","#b1b1b1","#ffec5a","#c3ecc3","#4a90dc","#7d3f98","#ff6818","#9c9a14","#f8c999"]},"legend":null}}},
{"transform":[{"filter":"datum.g != 'X'"}],"mark":{"type":"text","align":"left","baseline":"middle","dx":2.5,"fontSize":7,"font":"Liberation Sans","color":"#333333"},"encoding":{"x":{"field":"x","type":"quantitative","scale":{"domain":[-0.5,59.5],"nice":false,"zero":false},"axis":null},"y":{"datum":0.5,"scale":{"domain":[0,1],"range":[12,0],"nice":false,"zero":false},"axis":null},"text":{"field":"g"}}}]},
{"layer":[
{"data":{"name":"bands"},"transform":[{"filter":"datum.g != 'X'"}],"mark":{"type":"rect","stroke":"#d4d4d4","strokeWidth":1.2},"encoding":{"x":{"field":"x","type":"quantitative","scale":{"domain":[-0.5,59.5],"nice":false,"zero":false},"axis":null},"x2":{"field":"x2"},"y":{"datum":5,"scale":{"domain":[-1,5],"range":[105,15],"nice":false,"zero":false}},"y2":{"datum":-1},"fill":{"field":"g","type":"nominal","scale":{"domain":["QC","S1","S2","S3","S4","S5","S6","S7","S8","S9","S10","S11","S12","S13","S14","S15","S16","S17","S18"],"range":["#dbe8f8","#e9dcf0","#fde3d3","#eaedd5","#fdf0e5","#e0f4f1","#f8dde7","#d9ede8","#fcdfdf","#f6e9d5","#c9e7c9","#ebebeb","#fdf9d9","#eef9ee","#dbe8f8","#e9dcf0","#fddfcc","#e7ebd2","#fdf0e5"]},"legend":null}}},
{"data":{"values":[{"y":5},{"y":-1}]},"mark":{"type":"rule","color":"#8f8f8f","strokeWidth":1.5},"encoding":{"x":{"datum":-0.5,"scale":{"domain":[-0.5,59.5],"nice":false,"zero":false},"axis":null},"x2":{"datum":59.5},"y":{"field":"y","type":"quantitative","scale":{"domain":[-1,5],"range":[105,15],"nice":false,"zero":false}}}},
{"data":{"values":[{"y":0}]},"mark":{"type":"rule","color":"#4d4d4d","strokeWidth":1.3},"encoding":{"x":{"datum":-0.5,"scale":{"domain":[-0.5,59.5],"nice":false,"zero":false},"axis":null},"x2":{"datum":59.5},"y":{"field":"y","type":"quantitative","scale":{"domain":[-1,5],"range":[105,15],"nice":false,"zero":false}}}},
{"data":{"name":"C9"},"mark":{"type":"line","color":"#ee6b6b","strokeWidth":1},"encoding":{"x":{"field":"x","type":"quantitative","scale":{"domain":[-0.5,59.5],"nice":false,"zero":false},"axis":null},"y":{"field":"v","type":"quantitative","scale":{"domain":[-1,5],"range":[105,15],"nice":false,"zero":false},"axis":{"title":"Standardized Normalized Abundance","tickCount":30,"labelExpr":"datum.value % 1 == 0 ? format(datum.value, 'd') : ''"}}}},
{"data":{"name":"C9"},"mark":{"type":"point","filled":true,"color":"#d83434","size":9,"opacity":1},"encoding":{"x":{"field":"x","type":"quantitative","scale":{"domain":[-0.5,59.5],"nice":false,"zero":false},"axis":null},"y":{"field":"v","type":"quantitative","scale":{"domain":[-1,5],"range":[105,15],"nice":false,"zero":false}}}},
{"data":{"values":[{"t":"(C9)"}]},"mark":{"type":"text","font":"Liberation Serif","fontWeight":"bold","fontSize":8,"align":"center","baseline":"middle","color":"#111111"},"encoding":{"x":{"datum":-5.2,"scale":{"domain":[-0.5,59.5],"nice":false,"zero":false},"axis":null},"y":{"datum":2.47,"scale":{"domain":[-1,5],"range":[105,15],"nice":false,"zero":false}},"text":{"field":"t"}}}]}]}
]},

{"spacing": 0, "hconcat": [
{"width": 72, "height": 10, "data": {"values": []}, "mark": "point"},
{"width": 437, "height": 84,
 "title": {"text": "Dendrogram", "fontSize": 8, "fontWeight": "bold", "font": "Liberation Sans", "offset": 3, "color": "#222222", "anchor": "middle"},
 "layer": [
 {"data":{"values":[{"y":1.87}]},"mark":{"type":"rule","color":"#cccccc","strokeWidth":3},"encoding":{"x":{"datum":-0.98,"scale":{"domain":[-0.98,8],"nice":false,"zero":false},"axis":null},"x2":{"datum":8},"y":{"field":"y","type":"quantitative","scale":{"domain":[0,1.87],"nice":false,"zero":false}}}},
 {"data":{"name":"links"},"mark":{"type":"rule","color":"#58c6d8","strokeWidth":1.3},"encoding":{"x":{"field":"x","type":"quantitative","scale":{"domain":[-0.98,8],"nice":false,"zero":false},"axis":null},"x2":{"field":"x2"},"y":{"field":"y","type":"quantitative","scale":{"domain":[0,1.87],"nice":false,"zero":false},"axis":{"title":["a","Distance"],"titleFontSize":8,"titleFontWeight":"bold","titleColor":"#222222","tickCount":18,"labelExpr":"datum.value % 0.5 == 0 ? format(datum.value, '.1f') : ''","labelFontSize":7,"labelFontWeight":"bold","labelColor":"#222222","tickSize":3,"labelPadding":2,"titlePadding":5}},"y2":{"field":"y2"}}},
 {"data":{"name":"leaves"},"mark":{"type":"text","font":"Liberation Serif","fontSize":9,"color":"#222222","baseline":"middle"},"encoding":{"x":{"field":"k","type":"quantitative","scale":{"domain":[-0.98,8],"nice":false,"zero":false},"axis":null},"y":{"datum":-0.11,"scale":{"domain":[0,1.87],"nice":false,"zero":false}},"text":{"field":"mz"}}},
 {"data":{"name":"leaves"},"mark":{"type":"text","font":"Liberation Serif","fontSize":9,"color":"#222222","baseline":"middle"},"encoding":{"x":{"field":"k","type":"quantitative","scale":{"domain":[-0.98,8],"nice":false,"zero":false},"axis":null},"y":{"datum":-0.34,"scale":{"domain":[0,1.87],"nice":false,"zero":false}},"text":{"field":"t"}}},
 {"data":{"name":"leaves"},"mark":{"type":"text","font":"Liberation Serif","fontSize":9,"fontWeight":"bold","color":"#222222","baseline":"middle"},"encoding":{"x":{"field":"k","type":"quantitative","scale":{"domain":[-0.98,8],"nice":false,"zero":false},"axis":null},"y":{"datum":-0.56,"scale":{"domain":[0,1.87],"nice":false,"zero":false}},"text":{"field":"c"}}},
 {"data":{"values":[{"a":"m/z"}]},"mark":{"type":"text","font":"Liberation Serif","fontSize":9,"fontStyle":"italic","color":"#222222","baseline":"middle"},"encoding":{"x":{"datum":-0.57,"scale":{"domain":[-0.98,8],"nice":false,"zero":false},"axis":null},"y":{"datum":-0.11,"scale":{"domain":[0,1.87],"nice":false,"zero":false}},"text":{"field":"a"}}},
 {"data":{"values":[{"a":"T (min)"}]},"mark":{"type":"text","font":"Liberation Serif","fontSize":9,"color":"#222222","baseline":"middle"},"encoding":{"x":{"datum":-0.57,"scale":{"domain":[-0.98,8],"nice":false,"zero":false},"axis":null},"y":{"datum":-0.34,"scale":{"domain":[0,1.87],"nice":false,"zero":false}},"text":{"field":"a"}}},
 {"data":{"values":[{"a":"m/z"}]},"mark":{"type":"text","font":"Liberation Serif","fontSize":9,"fontStyle":"italic","color":"#222222","baseline":"middle","align":"left"},"encoding":{"x":{"datum":8.05,"scale":{"domain":[-0.98,8],"nice":false,"zero":false},"axis":null},"y":{"datum":0.1,"scale":{"domain":[0,1.87],"nice":false,"zero":false}},"text":{"field":"a"}}}
 ]}
]}
]
}
